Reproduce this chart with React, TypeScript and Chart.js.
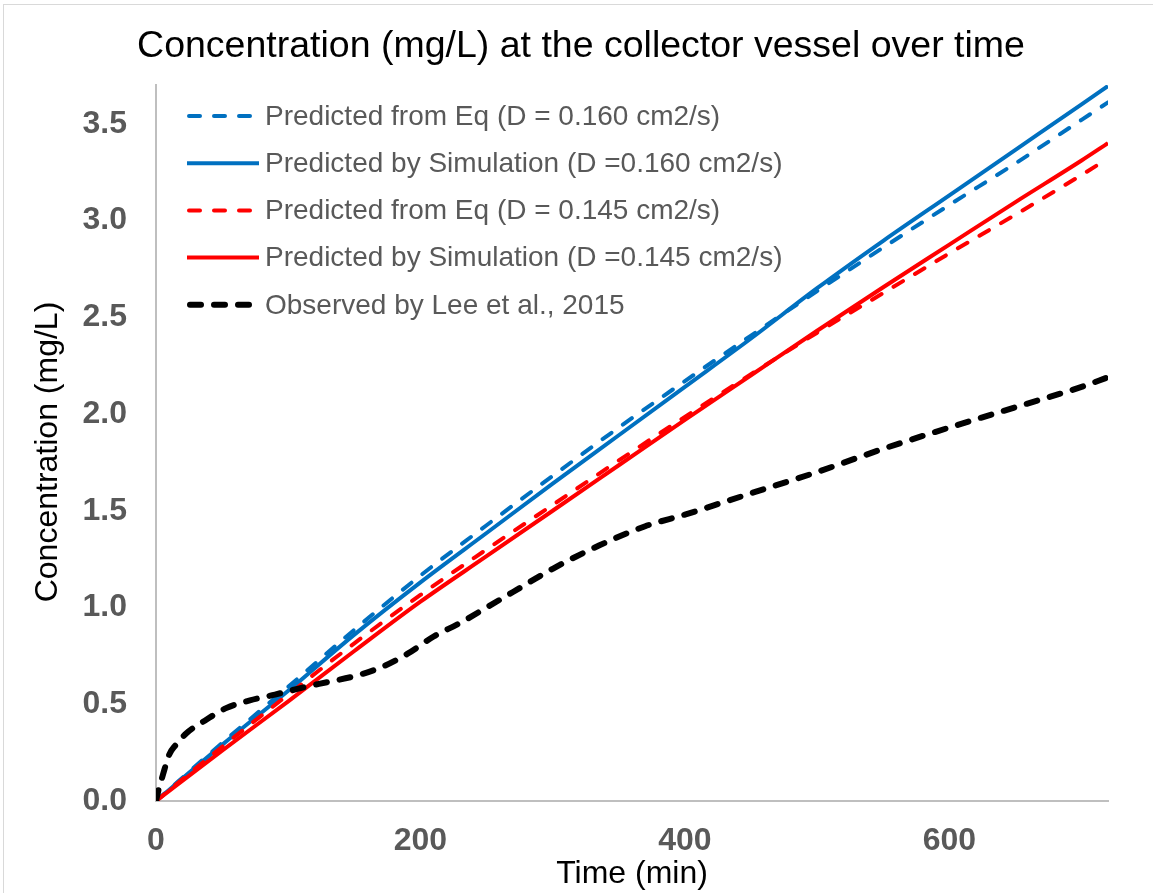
import React, { useEffect, useRef } from "react";
import { Chart, registerables } from "chart.js";

Chart.register(...registerables);

const TITLE = "Concentration (mg/L) at the collector vessel over time";
const X_TITLE = "Time (min)";
const Y_TITLE = "Concentration (mg/L)";

const modelTimes = [0, 50, 100, 150, 200, 250, 300, 350, 400, 450, 500, 550, 600, 650, 700, 720];
const eq160 = [0, 0.30, 0.59, 0.885, 1.165, 1.425, 1.68, 1.93, 2.17, 2.405, 2.635, 2.86, 3.08, 3.295, 3.52, 3.61];
const sim160 = [0, 0.29, 0.57, 0.86, 1.13, 1.385, 1.64, 1.89, 2.14, 2.39, 2.65, 2.895, 3.13, 3.365, 3.60, 3.695];
const eq145 = [0, 0.28, 0.55, 0.815, 1.065, 1.30, 1.53, 1.76, 1.985, 2.205, 2.42, 2.625, 2.83, 3.03, 3.235, 3.32];
const sim145 = [0, 0.26, 0.515, 0.775, 1.03, 1.265, 1.5, 1.735, 1.97, 2.2, 2.43, 2.655, 2.875, 3.095, 3.31, 3.40];

const obsTimes = [0, 2, 5, 10, 15, 23, 38, 53, 71, 90, 110, 130, 150, 170, 190, 210, 230, 250, 270, 300, 335, 370, 400, 450, 500, 550, 600, 650, 700, 720];
const observed = [0, 0.06, 0.13, 0.24, 0.29, 0.35, 0.42, 0.48, 0.52, 0.55, 0.585, 0.615, 0.645, 0.69, 0.76, 0.85, 0.92, 1.0, 1.08, 1.2, 1.32, 1.42, 1.48, 1.59, 1.70, 1.82, 1.93, 2.035, 2.14, 2.19];

const seriesLabels = [
  "Predicted from Eq (D = 0.160 cm2/s)",
  "Predicted by Simulation (D =0.160 cm2/s)",
  "Predicted from Eq (D = 0.145 cm2/s)",
  "Predicted by Simulation (D =0.145 cm2/s)",
  "Observed by Lee et al., 2015",
];

const xTicks = [0, 200, 400, 600];
const yTickStep = 0.5;

const FONT = "'Liberation Sans', Arial, sans-serif";

const pairs = (xs: number[], ys: number[]) => xs.map((x, i) => ({ x, y: ys[i] }));

const titlePlugin = {
  id: "customTitle",
  afterDraw(chart: any) {
    const { ctx, chartArea } = chart;
    ctx.save();
    ctx.font = `37.5px ${FONT}`;
    ctx.fillStyle = "#000000";
    ctx.textAlign = "center";
    ctx.textBaseline = "middle";
    ctx.fillText(TITLE, 581, 47);
    ctx.font = `32px ${FONT}`;
    ctx.translate(48, (chartArea.top + chartArea.bottom) / 2 + 9);
    ctx.rotate(-Math.PI / 2);
    ctx.fillText(Y_TITLE, 0, 0);
    ctx.restore();
  },
};

const legendPlugin = {
  id: "customLegend",
  afterDraw(chart: any) {
    const { ctx, chartArea } = chart;
    const x0 = chartArea.left + 31;
    const y0 = chartArea.top + 31;
    const rowH = 47.2;
    ctx.save();
    ctx.font = `28px ${FONT}`;
    ctx.textBaseline = "middle";
    ctx.textAlign = "left";
    chart.data.datasets.forEach((ds: any, i: number) => {
      const y = y0 + i * rowH;
      ctx.beginPath();
      ctx.strokeStyle = ds.borderColor;
      ctx.lineWidth = ds.borderWidth;
      ctx.lineCap = ds.borderCapStyle || "butt";
      ctx.setLineDash(ds.borderDash || []);
      const pad = ds.borderCapStyle === "round" ? ds.borderWidth / 2 : 0;
      ctx.moveTo(x0 + pad, y);
      ctx.lineTo(x0 + 72 - pad, y);
      ctx.stroke();
      ctx.setLineDash([]);
      ctx.fillStyle = "#595959";
      ctx.fillText(ds.label, x0 + 78, y + 1);
    });
    ctx.restore();
  },
};

export default function App() {
  const canvasRef = useRef<HTMLCanvasElement | null>(null);

  useEffect(() => {
    if (!canvasRef.current) return;
    const chart = new Chart(canvasRef.current, {
      type: "line",
      data: {
        datasets: [
          {
            label: seriesLabels[0],
            data: pairs(modelTimes, eq160),
            borderColor: "#0070C0",
            borderWidth: 4,
            borderDash: [11, 14],
            borderCapStyle: "round",
            order: 4,
          },
          {
            label: seriesLabels[1],
            data: pairs(modelTimes, sim160),
            borderColor: "#0070C0",
            borderWidth: 4,
            borderCapStyle: "butt",
            order: 3,
          },
          {
            label: seriesLabels[2],
            data: pairs(modelTimes, eq145),
            borderColor: "#FF0000",
            borderWidth: 4,
            borderDash: [11, 14],
            borderCapStyle: "round",
            order: 2,
          },
          {
            label: seriesLabels[3],
            data: pairs(modelTimes, sim145),
            borderColor: "#FF0000",
            borderWidth: 4,
            borderCapStyle: "butt",
            order: 1,
          },
          {
            label: seriesLabels[4],
            data: pairs(obsTimes, observed),
            borderColor: "#000000",
            borderWidth: 6,
            borderDash: [11, 13],
            borderCapStyle: "round",
            order: 0,
          },
        ] as any,
      },
      options: {
        animation: false,
        responsive: false,
        maintainAspectRatio: false,
        elements: {
          point: { radius: 0, hoverRadius: 0 },
          line: { cubicInterpolationMode: "monotone", fill: false },
        },
        layout: { padding: { left: 0, right: 45, top: 85, bottom: 0 } },
        plugins: {
          legend: { display: false },
          tooltip: { enabled: false },
          title: { display: false },
        },
        scales: {
          x: {
            type: "linear",
            min: 0,
            max: 720,
            grid: { display: false, drawTicks: false },
            border: { display: true, color: "#bfbfbf", width: 2 },
            ticks: {
              stepSize: 200,
              color: "#595959",
              font: { family: FONT, size: 32, weight: "bold" },
              padding: 21,
              maxRotation: 0,
            },
            afterBuildTicks: (scale: any) => {
              scale.ticks = xTicks.map((v) => ({ value: v }));
            },
            afterFit: (scale: any) => {
              scale.height = 92;
            },
            title: {
              display: true,
              text: X_TITLE,
              color: "#000000",
              font: { family: FONT, size: 32, weight: "normal", lineHeight: 1.2 },
              padding: { top: 0, bottom: 0 },
            },
          },
          y: {
            type: "linear",
            min: 0,
            max: 3.7,
            grid: { display: false, drawTicks: false },
            border: { display: true, color: "#bfbfbf", width: 2 },
            ticks: {
              stepSize: yTickStep,
              color: "#595959",
              font: { family: FONT, size: 32, weight: "bold" },
              padding: 29,
              callback: (v: any) => Number(v).toFixed(1),
            },
            afterBuildTicks: (scale: any) => {
              scale.ticks = scale.ticks.filter(
                (t: any) => Math.abs(t.value / yTickStep - Math.round(t.value / yTickStep)) < 1e-6
              );
            },
            afterFit: (scale: any) => {
              scale.width = 156;
            },
            title: { display: false, text: Y_TITLE },
          },
        },
      },
      plugins: [titlePlugin, legendPlugin],
    } as any);
    return () => chart.destroy();
  }, []);

  return (
    <div
      style={{
        position: "fixed",
        left: 0,
        top: 0,
        width: 1153,
        height: 893,
        overflow: "hidden",
        background: "#ffffff",
      }}
    >
      <div
        style={{
          position: "absolute",
          left: 3,
          top: 4,
          width: 1200,
          height: 1000,
          border: "1px solid #d9d9d9",
          boxSizing: "border-box",
        }}
      />
      <canvas
        ref={canvasRef}
        width={1153}
        height={893}
        style={{ position: "absolute", left: 0, top: 0, width: 1153, height: 893 }}
      />
    </div>
  );
}
